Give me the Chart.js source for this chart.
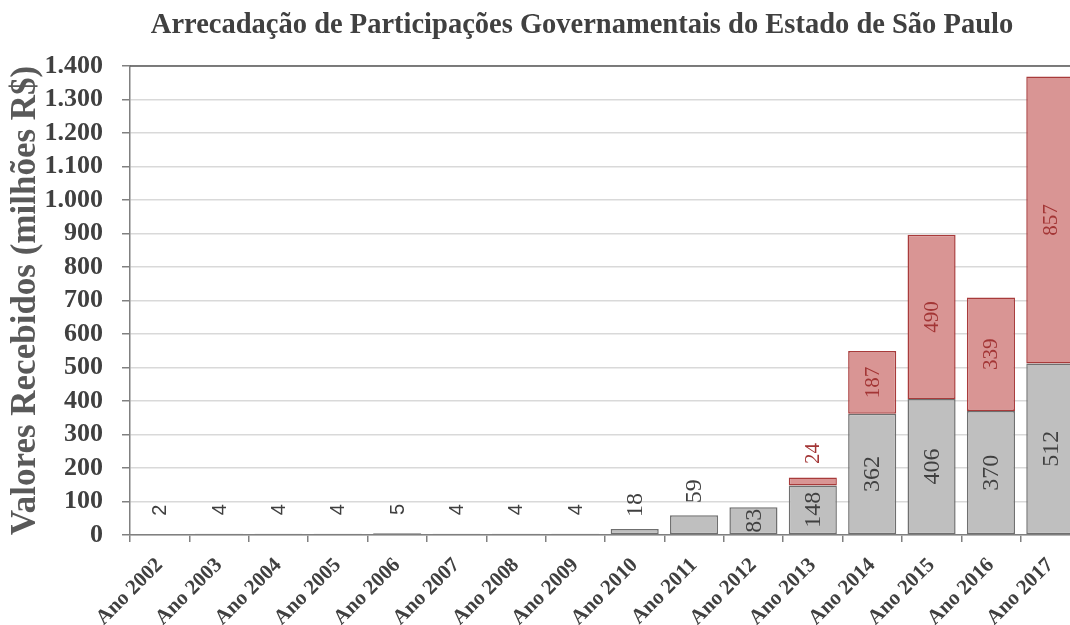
<!DOCTYPE html>
<html>
<head>
<meta charset="utf-8">
<script src="https://cdn.jsdelivr.net/npm/chart.js@4/dist/chart.umd.min.js"></script>
<style>
  html, body { margin: 0; padding: 0; background: #ffffff; overflow: hidden; }
  #wrap { width: 1070px; height: 625px; overflow: hidden; position: relative; }
  canvas { position: absolute; left: 0; top: 0; }
</style>
</head>
<body>
<div id="wrap"><canvas id="c" width="1164" height="625"></canvas></div>
<script>
const categories = ['Ano 2002','Ano 2003','Ano 2004','Ano 2005','Ano 2006','Ano 2007','Ano 2008','Ano 2009','Ano 2010','Ano 2011','Ano 2012','Ano 2013','Ano 2014','Ano 2015','Ano 2016','Ano 2017'];
const grayValues = [2, 4, 4, 4, 5, 4, 4, 4, 18, 59, 83, 148, 362, 406, 370, 512];
const redValues = [null, null, null, null, null, null, null, null, null, null, null, 24, 187, 490, 339, 857];
const yTickLabels = ['0','100','200','300','400','500','600','700','800','900','1.000','1.100','1.200','1.300','1.400'];

const chartTitle = 'Arrecadação de Participações Governamentais do Estado de São Paulo';
const yAxisTitle = 'Valores Recebidos (milhões R$)';

const SERIF = '"Liberation Serif", "DejaVu Serif", serif';
const SANS = '"Liberation Sans", Arial, sans-serif';

const labelPlugin = {
  id: 'barLabels',
  afterDatasetsDraw(chart) {
    const ctx = chart.ctx;
    chart.data.datasets.forEach((ds, di) => {
      const meta = chart.getDatasetMeta(di);
      meta.data.forEach((bar, i) => {
        const v = ds.data[i];
        if (v === null || v === undefined) return;
        const text = String(v);
        let font, color;
        if (di === 0) {
          color = '#404040';
          font = v < 10 ? ('20px ' + SANS) : ('24px ' + SERIF);
        } else {
          color = '#a33535';
          font = '21px ' + SERIF;
        }
        ctx.save();
        ctx.font = font;
        const tw = ctx.measureText(text).width;
        const top = Math.min(bar.y, bar.base);
        const h = Math.abs(bar.base - bar.y);
        let cy;
        if (h >= tw + 2) {
          cy = (bar.y + bar.base) / 2;
        } else {
          cy = top - 24;
        }
        ctx.translate(bar.x, cy);
        ctx.rotate(-Math.PI / 2);
        ctx.fillStyle = color;
        ctx.textAlign = 'center';
        ctx.textBaseline = 'middle';
        ctx.fillText(text, 0, 1);
        ctx.restore();
      });
    });
  }
};

const frameTitlePlugin = {
  id: 'frameTitle',
  afterDraw(chart) {
    const a = chart.chartArea;
    const ctx = chart.ctx;
    ctx.save();
    ctx.strokeStyle = '#595959';
    ctx.lineWidth = 1.5;
    ctx.beginPath();
    ctx.moveTo(a.left, a.top);
    ctx.lineTo(a.right, a.top);
    ctx.stroke();
    ctx.fillStyle = '#404040';
    ctx.font = 'bold 28.5px ' + SERIF;
    ctx.textAlign = 'center';
    ctx.textBaseline = 'middle';
    ctx.fillText(chartTitle, 582, 26);
    ctx.restore();
  }
};

new Chart(document.getElementById('c'), {
  type: 'bar',
  data: {
    labels: categories,
    datasets: [
      {
        label: 'Série A',
        data: grayValues,
        backgroundColor: '#bfbfbf',
        borderColor: '#6f6f6f',
        borderWidth: 1.5,
        borderSkipped: false,
        barPercentage: 0.81,
        categoryPercentage: 1.0
      },
      {
        label: 'Série B',
        data: redValues,
        backgroundColor: '#d99594',
        borderColor: '#a83b3b',
        borderWidth: 1.5,
        borderSkipped: false,
        barPercentage: 0.81,
        categoryPercentage: 1.0
      }
    ]
  },
  options: {
    responsive: false,
    devicePixelRatio: 1,
    animation: false,
    layout: { padding: { left: 0, right: 84, top: 66, bottom: 0 } },
    plugins: {
      legend: { display: false },
      tooltip: { enabled: false },
      title: { display: false }
    },
    scales: {
      x: {
        stacked: true,
        afterFit(scale) { scale.height = 90; },
        grid: {
          display: true,
          drawOnChartArea: false,
          drawTicks: true,
          tickLength: 7,
          tickColor: '#808080',
          lineWidth: 1.5,
          offset: true
        },
        border: { display: true, color: '#808080', width: 1.5 },
        ticks: {
          autoSkip: false,
          minRotation: 45,
          maxRotation: 45,
          color: '#404040',
          padding: 11,
          font: { family: SERIF, size: 21, weight: 'bold' }
        }
      },
      y: {
        stacked: true,
        min: 0,
        max: 1400,
        afterFit(scale) { scale.width = 130; },
        grid: {
          color: '#d9d9d9',
          lineWidth: 1.5,
          drawTicks: true,
          tickLength: 8,
          tickColor: '#808080'
        },
        border: { display: true, color: '#808080', width: 1.5 },
        ticks: {
          autoSkip: false,
          stepSize: 100,
          color: '#404040',
          padding: 19,
          font: { family: SERIF, size: 26, weight: 'bold' },
          callback: (v, i) => yTickLabels[i]
        },
        title: {
          display: true,
          text: yAxisTitle,
          color: '#595959',
          font: { family: SERIF, size: 35, weight: 'bold' },
          padding: { top: 5, bottom: 0 }
        }
      }
    }
  },
  plugins: [labelPlugin, frameTitlePlugin]
});
</script>
</body>
</html>
